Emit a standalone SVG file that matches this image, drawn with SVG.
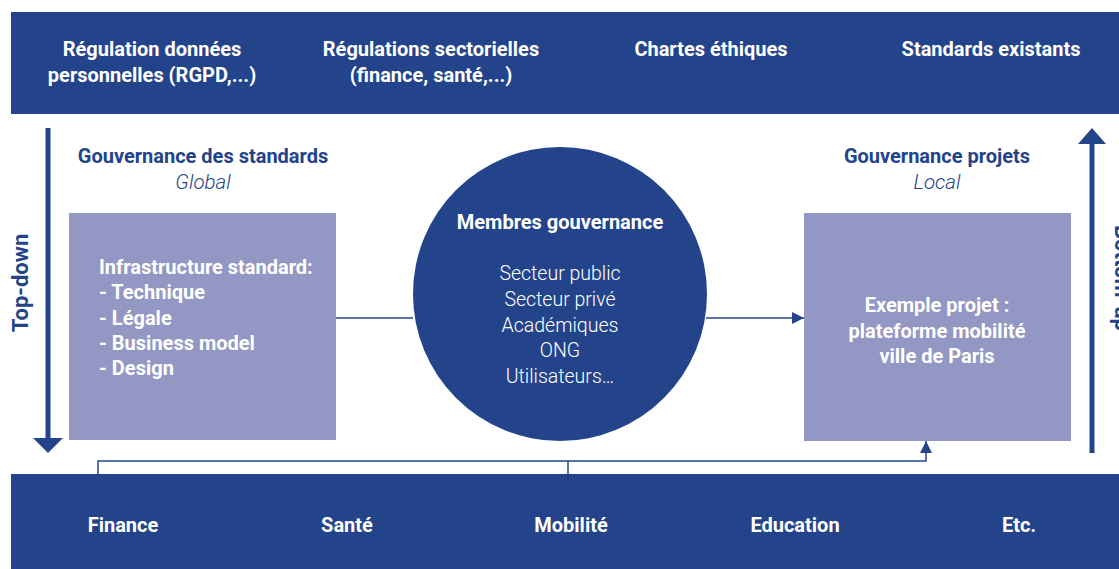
<svg xmlns="http://www.w3.org/2000/svg" width="1119" height="569" viewBox="0 0 1119 569">
<defs>
<style>
.band{fill:#23448a}
.box{fill:#9397c3}
.wb{font-family:Roboto,"Liberation Sans",sans-serif;font-weight:700;font-size:20px;fill:#ffffff}
.wl{font-family:Roboto,"Liberation Sans",sans-serif;font-weight:300;font-size:19.5px;fill:#ffffff}
.bb{font-family:Roboto,"Liberation Sans",sans-serif;font-weight:700;font-size:20px;fill:#23448a}
.bv{font-family:Roboto,"Liberation Sans",sans-serif;font-weight:700;font-size:22px;fill:#23448a}
.bi{font-family:Roboto,"Liberation Sans",sans-serif;font-style:italic;font-weight:300;font-size:20.5px;fill:#23448a}
.ln{stroke:#23448a;stroke-width:1.5;fill:none}
.ar{stroke:#23448a;stroke-width:5;fill:none}
</style>
<marker id="ah2" viewBox="0 0 10 10" refX="10" refY="5" markerWidth="12" markerHeight="14" markerUnits="userSpaceOnUse" orient="auto"><path d="M0,0 L10,5 L0,10 Z" fill="#23448a"/></marker>
</defs>

<g id="top-band">
<rect class="band" x="11" y="12" width="1108" height="102"/>
<text class="wb" text-anchor="middle" x="152" y="56">Régulation données</text>
<text class="wb" text-anchor="middle" x="152" y="82">personnelles (RGPD,...)</text>
<text class="wb" text-anchor="middle" x="431" y="56">Régulations sectorielles</text>
<text class="wb" text-anchor="middle" x="431" y="82">(finance, santé,...)</text>
<text class="wb" text-anchor="middle" x="711" y="56">Chartes éthiques</text>
<text class="wb" text-anchor="middle" x="991" y="56">Standards existants</text>
</g>

<g id="bottom-band">
<rect class="band" x="11" y="474" width="1108" height="95"/>
<text class="wb" text-anchor="middle" x="123" y="532">Finance</text>
<text class="wb" text-anchor="middle" x="347" y="532">Santé</text>
<text class="wb" text-anchor="middle" x="571" y="532">Mobilité</text>
<text class="wb" text-anchor="middle" x="795" y="532">Education</text>
<text class="wb" text-anchor="middle" x="1019" y="532">Etc.</text>
</g>

<g id="connectors">
<line class="ln" x1="336" y1="318" x2="413" y2="318"/>
<line class="ln" x1="706" y1="318" x2="804" y2="318" marker-end="url(#ah2)"/>
<polyline class="ln" points="98,474 98,461 926,461 926,441" marker-end="url(#ah2)"/>
<line class="ln" x1="568" y1="461" x2="568" y2="474"/>
</g>

<g id="top-down">
<line class="ar" x1="48" y1="128" x2="48" y2="440"/>
<path d="M33,438 L63,438 L48,453 Z" fill="#23448a"/>
<text class="bv" text-anchor="middle" transform="translate(28,283) rotate(-90)">Top-down</text>
</g>

<g id="bottom-up">
<line class="ar" x1="1092" y1="453" x2="1092" y2="140"/>
<path d="M1078,144 L1106,144 L1092,128 Z" fill="#23448a"/>
<text class="bv" text-anchor="middle" transform="translate(1115,278) rotate(90)">Bottom-up</text>
</g>

<g id="gouvernance-standards">
<text class="bb" text-anchor="middle" x="203" y="163">Gouvernance des standards</text>
<text class="bi" text-anchor="middle" x="203" y="189">Global</text>
<rect class="box" x="69" y="213" width="267" height="227"/>
<text class="wb" x="99" y="274">Infrastructure standard:</text>
<text class="wb" x="99" y="299">- Technique</text>
<text class="wb" x="99" y="325">- Légale</text>
<text class="wb" x="99" y="350">- Business model</text>
<text class="wb" x="99" y="375">- Design</text>
</g>

<g id="membres">
<circle cx="560" cy="294" r="147" fill="#23448a"/>
<text class="wb" text-anchor="middle" x="560" y="229">Membres gouvernance</text>
<text class="wl" text-anchor="middle" x="560" y="280">Secteur public</text>
<text class="wl" text-anchor="middle" x="560" y="306">Secteur privé</text>
<text class="wl" text-anchor="middle" x="560" y="332">Académiques</text>
<text class="wl" text-anchor="middle" x="560" y="357">ONG</text>
<text class="wl" text-anchor="middle" x="560" y="383">Utilisateurs…</text>
</g>

<g id="gouvernance-projets">
<text class="bb" text-anchor="middle" x="937" y="163">Gouvernance projets</text>
<text class="bi" text-anchor="middle" x="937" y="189">Local</text>
<rect class="box" x="804" y="213" width="267" height="228"/>
<text class="wb" text-anchor="middle" x="937" y="312">Exemple projet :</text>
<text class="wb" text-anchor="middle" x="937" y="338">plateforme mobilité</text>
<text class="wb" text-anchor="middle" x="937" y="363">ville de Paris</text>
</g>
</svg>
